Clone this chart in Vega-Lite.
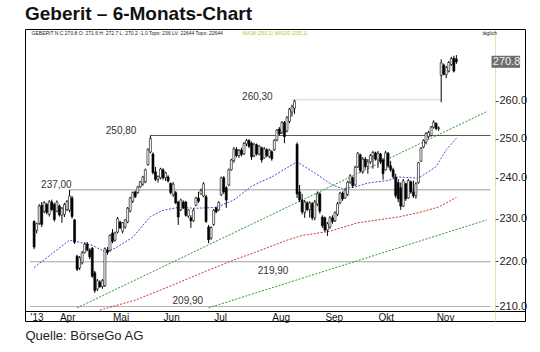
{
  "$schema": "https://vega.github.io/schema/vega-lite/v6.json",
  "width": 500,
  "height": 292,
  "autosize": "none",
  "padding": {"left": 25, "top": 29, "right": 15, "bottom": 31},
  "background": "white",
  "title": {"text": "Geberit – 6-Monats-Chart", "anchor": "start", "frame": "group", "fontSize": 19, "fontWeight": "bold", "font": "Liberation Sans", "color": "#111", "offset": 5},
  "config": {"view": {"stroke": "#000", "strokeWidth": 1}, "font": "Liberation Sans"},
  "datasets": {
    "candles": [
      {"t":-10,"o":229.3,"h":229.6,"l":222.8,"c":223.3},{"t":-9,"o":227.2,"h":229.0,"l":226.5,"c":228.8},{"t":-8,"o":228.9,"h":233.5,"l":228.5,"c":233.0},{"t":-7,"o":233.2,"h":234.0,"l":228.0,"c":228.6},{"t":-6,"o":231.8,"h":234.2,"l":231.3,"c":233.9},{"t":-5,"o":233.4,"h":233.8,"l":231.0,"c":231.5},{"t":-4,"o":231.0,"h":234.5,"l":230.5,"c":234.1},{"t":-3,"o":234.0,"h":234.6,"l":231.8,"c":232.2},{"t":-2,"o":233.4,"h":233.8,"l":229.3,"c":229.8},{"t":-1,"o":231.8,"h":234.4,"l":231.5,"c":234.0},
      {"t":0,"o":233.0,"h":233.4,"l":230.5,"c":230.9},{"t":1,"o":230.8,"h":232.8,"l":229.0,"c":232.5},{"t":2,"o":231.0,"h":233.8,"l":230.4,"c":233.4},{"t":3,"o":232.2,"h":234.5,"l":231.8,"c":234.1},{"t":4,"o":232.0,"h":237.0,"l":231.5,"c":235.5},{"t":5,"o":235.0,"h":235.5,"l":230.0,"c":230.5},{"t":6,"o":229.7,"h":229.9,"l":224.0,"c":224.4},{"t":7,"o":221.2,"h":221.5,"l":217.8,"c":218.2},{"t":8,"o":218.5,"h":221.2,"l":218.0,"c":220.8},{"t":9,"o":219.7,"h":222.4,"l":219.3,"c":222.0},
      {"t":10,"o":222.0,"h":224.4,"l":221.8,"c":224.0},{"t":11,"o":224.0,"h":224.5,"l":222.3,"c":222.6},{"t":12,"o":222.6,"h":223.0,"l":220.5,"c":221.0},{"t":13,"o":223.0,"h":223.3,"l":216.3,"c":216.6},{"t":14,"o":217.4,"h":217.8,"l":212.9,"c":213.4},{"t":15,"o":213.8,"h":216.0,"l":213.3,"c":215.6},{"t":16,"o":215.3,"h":215.7,"l":214.0,"c":214.3},{"t":17,"o":214.3,"h":216.0,"l":213.8,"c":215.6},{"t":18,"o":214.5,"h":223.2,"l":214.2,"c":222.9},{"t":19,"o":222.6,"h":223.3,"l":221.5,"c":222.0},
      {"t":20,"o":222.5,"h":226.3,"l":222.2,"c":226.0},{"t":21,"o":226.6,"h":227.5,"l":224.2,"c":224.6},{"t":22,"o":224.9,"h":226.9,"l":224.6,"c":226.6},{"t":23,"o":226.8,"h":230.4,"l":226.5,"c":230.0},{"t":24,"o":229.2,"h":229.5,"l":227.5,"c":227.8},{"t":25,"o":227.0,"h":229.2,"l":226.5,"c":229.0},{"t":26,"o":228.0,"h":229.9,"l":227.6,"c":229.7},{"t":27,"o":229.2,"h":232.8,"l":228.9,"c":232.5},{"t":28,"o":231.8,"h":235.3,"l":231.5,"c":235.0},{"t":29,"o":234.2,"h":236.6,"l":233.8,"c":236.3},
      {"t":30,"o":236.5,"h":236.8,"l":235.0,"c":235.3},{"t":31,"o":236.3,"h":238.0,"l":236.0,"c":237.7},{"t":32,"o":237.8,"h":239.2,"l":237.5,"c":239.0},{"t":33,"o":238.4,"h":240.5,"l":238.0,"c":240.2},{"t":34,"o":239.0,"h":242.3,"l":238.7,"c":242.0},{"t":35,"o":243.3,"h":247.5,"l":243.0,"c":247.1},{"t":36,"o":246.5,"h":250.8,"l":246.2,"c":250.0},{"t":37,"o":246.0,"h":246.4,"l":240.8,"c":241.3},{"t":38,"o":241.5,"h":242.7,"l":239.2,"c":239.6},{"t":39,"o":239.6,"h":240.6,"l":238.8,"c":240.3},
      {"t":40,"o":240.0,"h":242.5,"l":239.6,"c":242.2},{"t":41,"o":242.0,"h":242.4,"l":239.5,"c":240.0},{"t":42,"o":240.0,"h":241.5,"l":239.2,"c":241.2},{"t":43,"o":240.2,"h":240.6,"l":238.8,"c":239.2},{"t":44,"o":238.6,"h":238.8,"l":235.9,"c":236.3},{"t":45,"o":235.8,"h":238.9,"l":235.3,"c":238.4},{"t":46,"o":236.3,"h":236.7,"l":233.5,"c":233.8},{"t":47,"o":234.0,"h":234.3,"l":228.5,"c":230.4},{"t":48,"o":232.1,"h":234.8,"l":231.8,"c":234.5},{"t":49,"o":234.0,"h":234.4,"l":232.3,"c":232.6},
      {"t":50,"o":234.0,"h":234.3,"l":230.5,"c":230.8},{"t":51,"o":230.6,"h":232.3,"l":230.2,"c":232.1},{"t":52,"o":230.2,"h":230.8,"l":227.8,"c":229.5},{"t":53,"o":229.5,"h":232.5,"l":229.2,"c":232.0},{"t":54,"o":233.2,"h":235.3,"l":233.0,"c":235.0},{"t":55,"o":235.0,"h":236.5,"l":233.8,"c":234.2},{"t":56,"o":236.0,"h":237.3,"l":235.8,"c":236.8},{"t":57,"o":235.5,"h":238.9,"l":235.2,"c":238.5},{"t":58,"o":235.3,"h":235.8,"l":229.0,"c":229.3},{"t":59,"o":228.0,"h":228.5,"l":224.2,"c":225.0},
      {"t":60,"o":225.4,"h":228.2,"l":225.0,"c":227.9},{"t":61,"o":228.6,"h":232.3,"l":228.3,"c":232.0},{"t":62,"o":232.5,"h":232.9,"l":231.3,"c":231.6},{"t":63,"o":232.1,"h":234.2,"l":231.8,"c":233.9},{"t":64,"o":235.8,"h":240.3,"l":235.5,"c":240.0},{"t":65,"o":240.0,"h":240.4,"l":236.0,"c":236.5},{"t":66,"o":237.5,"h":237.9,"l":232.6,"c":234.5},{"t":67,"o":238.2,"h":242.3,"l":237.9,"c":242.0},{"t":68,"o":242.0,"h":244.8,"l":241.8,"c":244.5},{"t":69,"o":244.3,"h":247.8,"l":243.8,"c":247.3},
      {"t":70,"o":247.2,"h":247.8,"l":245.2,"c":245.6},{"t":71,"o":245.6,"h":247.3,"l":245.0,"c":246.9},{"t":72,"o":247.0,"h":247.6,"l":245.4,"c":245.9},{"t":73,"o":246.0,"h":249.1,"l":245.8,"c":248.7},{"t":74,"o":248.6,"h":249.9,"l":248.0,"c":249.5},{"t":75,"o":249.5,"h":249.8,"l":247.5,"c":248.0},{"t":76,"o":248.8,"h":249.2,"l":244.5,"c":245.3},{"t":77,"o":245.5,"h":248.9,"l":245.2,"c":248.5},{"t":78,"o":248.4,"h":248.7,"l":245.6,"c":246.0},{"t":79,"o":246.0,"h":248.3,"l":245.7,"c":248.0},
      {"t":80,"o":247.6,"h":247.9,"l":243.8,"c":244.5},{"t":81,"o":245.0,"h":247.8,"l":244.8,"c":247.3},{"t":82,"o":247.1,"h":247.5,"l":245.2,"c":245.6},{"t":83,"o":245.4,"h":247.4,"l":245.0,"c":247.0},{"t":84,"o":246.6,"h":247.0,"l":244.3,"c":244.8},{"t":85,"o":247.1,"h":249.8,"l":246.8,"c":249.5},{"t":86,"o":249.6,"h":252.5,"l":249.3,"c":252.2},{"t":87,"o":252.5,"h":253.0,"l":250.8,"c":251.2},{"t":88,"o":251.5,"h":254.6,"l":251.2,"c":254.2},{"t":89,"o":254.2,"h":254.6,"l":248.8,"c":250.5},
      {"t":90,"o":252.0,"h":255.9,"l":251.6,"c":255.5},{"t":91,"o":254.5,"h":258.1,"l":254.0,"c":257.8},{"t":92,"o":257.0,"h":259.0,"l":255.8,"c":258.4},{"t":93,"o":258.0,"h":260.3,"l":256.5,"c":259.9},{"t":94,"o":248.5,"h":249.0,"l":235.0,"c":236.0},{"t":95,"o":236.5,"h":238.2,"l":234.0,"c":234.5},{"t":96,"o":234.5,"h":236.0,"l":231.0,"c":231.6},{"t":97,"o":231.5,"h":234.5,"l":230.2,"c":234.0},{"t":98,"o":233.8,"h":234.2,"l":231.8,"c":232.2},{"t":99,"o":232.2,"h":234.2,"l":230.3,"c":233.8},
      {"t":100,"o":233.6,"h":234.0,"l":229.6,"c":230.2},{"t":101,"o":230.2,"h":234.5,"l":229.6,"c":234.0},{"t":102,"o":233.5,"h":236.6,"l":233.0,"c":236.0},{"t":103,"o":236.0,"h":236.4,"l":231.2,"c":231.8},{"t":104,"o":230.4,"h":230.8,"l":227.8,"c":228.3},{"t":105,"o":230.2,"h":230.5,"l":226.9,"c":227.3},{"t":106,"o":227.3,"h":229.2,"l":225.9,"c":228.8},{"t":107,"o":228.0,"h":230.6,"l":227.6,"c":230.2},{"t":108,"o":230.2,"h":230.8,"l":228.8,"c":229.3},{"t":109,"o":229.5,"h":231.8,"l":229.2,"c":231.4},
      {"t":110,"o":231.0,"h":234.0,"l":230.6,"c":233.6},{"t":111,"o":233.8,"h":236.5,"l":233.5,"c":236.2},{"t":112,"o":236.2,"h":236.6,"l":234.3,"c":234.8},{"t":113,"o":235.0,"h":237.3,"l":234.8,"c":237.0},{"t":114,"o":235.8,"h":239.2,"l":235.5,"c":238.9},{"t":115,"o":238.9,"h":240.9,"l":238.5,"c":240.5},{"t":116,"o":240.0,"h":240.3,"l":237.5,"c":238.0},{"t":117,"o":238.2,"h":243.0,"l":238.0,"c":242.6},{"t":118,"o":242.7,"h":246.5,"l":242.5,"c":246.2},{"t":119,"o":245.8,"h":246.1,"l":241.3,"c":241.8},
      {"t":120,"o":241.5,"h":245.2,"l":241.0,"c":244.7},{"t":121,"o":244.7,"h":245.2,"l":242.3,"c":242.8},{"t":122,"o":242.8,"h":244.7,"l":241.0,"c":244.0},{"t":123,"o":244.0,"h":246.0,"l":243.5,"c":245.6},{"t":124,"o":245.5,"h":246.8,"l":242.3,"c":246.4},{"t":125,"o":246.3,"h":246.6,"l":244.3,"c":244.7},{"t":126,"o":244.5,"h":246.8,"l":242.5,"c":246.2},{"t":127,"o":246.0,"h":246.3,"l":243.5,"c":244.0},{"t":128,"o":244.5,"h":245.0,"l":239.5,"c":241.0},{"t":129,"o":242.0,"h":246.8,"l":241.8,"c":246.3},
      {"t":130,"o":246.2,"h":246.5,"l":242.5,"c":243.0},{"t":131,"o":243.0,"h":244.2,"l":241.5,"c":242.0},{"t":132,"o":242.0,"h":242.5,"l":239.8,"c":240.3},{"t":133,"o":240.2,"h":241.0,"l":235.0,"c":235.6},{"t":134,"o":238.8,"h":239.7,"l":234.0,"c":234.8},{"t":135,"o":237.5,"h":238.8,"l":232.1,"c":233.0},{"t":136,"o":233.0,"h":239.7,"l":232.8,"c":239.2},{"t":137,"o":238.5,"h":238.8,"l":234.3,"c":234.8},{"t":138,"o":235.0,"h":239.7,"l":234.8,"c":239.3},{"t":139,"o":239.0,"h":239.3,"l":236.0,"c":236.5},
      {"t":140,"o":236.5,"h":239.3,"l":235.0,"c":235.5},{"t":141,"o":235.5,"h":238.9,"l":234.8,"c":238.5},{"t":142,"o":238.8,"h":244.0,"l":238.5,"c":243.8},{"t":143,"o":244.2,"h":247.8,"l":244.0,"c":247.5},{"t":144,"o":247.8,"h":249.8,"l":247.5,"c":249.5},{"t":145,"o":249.0,"h":251.7,"l":248.5,"c":251.3},{"t":146,"o":250.5,"h":252.0,"l":250.0,"c":251.6},{"t":147,"o":250.8,"h":253.3,"l":250.5,"c":253.0},{"t":148,"o":253.0,"h":254.8,"l":252.6,"c":254.3},{"t":149,"o":254.0,"h":254.2,"l":252.2,"c":252.6},
      {"t":150,"o":252.6,"h":253.2,"l":252.0,"c":252.8},{"t":151,"o":267.0,"h":271.5,"l":259.6,"c":270.5},{"t":152,"o":269.9,"h":270.3,"l":267.0,"c":267.3},{"t":153,"o":267.2,"h":269.6,"l":266.2,"c":269.2},{"t":154,"o":268.2,"h":271.0,"l":267.8,"c":270.6},{"t":155,"o":270.0,"h":272.2,"l":269.6,"c":271.7},{"t":156,"o":271.8,"h":272.5,"l":267.8,"c":268.2},{"t":157,"o":271.6,"h":272.7,"l":270.2,"c":270.8}
    ],
    "lines": [
      {"s":"MA38","t":-10,"v":218.6},{"s":"MA38","t":4,"v":224.9},{"s":"MA38","t":8,"v":224.4},{"s":"MA38","t":13,"v":223.7},{"s":"MA38","t":18,"v":222.2},{"s":"MA38","t":22,"v":223.0},{"s":"MA38","t":29,"v":225.6},{"s":"MA38","t":36,"v":230.5},{"s":"MA38","t":41,"v":232.0},{"s":"MA38","t":47,"v":232.7},{"s":"MA38","t":54,"v":232.5},{"s":"MA38","t":62,"v":232.7},{"s":"MA38","t":69,"v":234.5},{"s":"MA38","t":76,"v":237.9},{"s":"MA38","t":80,"v":239.1},{"s":"MA38","t":84,"v":240.2},{"s":"MA38","t":90,"v":242.5},{"s":"MA38","t":94,"v":244.0},{"s":"MA38","t":100,"v":241.6},{"s":"MA38","t":108,"v":238.2},{"s":"MA38","t":112,"v":237.3},{"s":"MA38","t":117,"v":237.7},{"s":"MA38","t":122,"v":238.7},{"s":"MA38","t":130,"v":239.3},{"s":"MA38","t":134,"v":240.2},{"s":"MA38","t":142,"v":239.9},{"s":"MA38","t":149,"v":242.8},{"s":"MA38","t":153,"v":247.1},{"s":"MA38","t":157,"v":250.1},
      {"s":"MA200","t":16,"v":209.1},{"s":"MA200","t":30,"v":211.3},{"s":"MA200","t":43,"v":214.2},{"s":"MA200","t":56,"v":217.3},{"s":"MA200","t":69,"v":220.3},{"s":"MA200","t":83,"v":223.3},{"s":"MA200","t":90,"v":224.9},{"s":"MA200","t":96,"v":226.0},{"s":"MA200","t":107,"v":227.0},{"s":"MA200","t":118,"v":229.0},{"s":"MA200","t":126,"v":229.7},{"s":"MA200","t":134,"v":230.4},{"s":"MA200","t":142,"v":231.4},{"s":"MA200","t":150,"v":232.8},{"s":"MA200","t":157,"v":235.1},
      {"s":"Trend1","t":7,"v":209.6},{"s":"Trend1","t":169,"v":257.1},
      {"s":"Trend2","t":59,"v":209.6},{"s":"Trend2","t":169,"v":229.7}
    ],
    "levels": [
      {"name":"260,30","t0":92,"t1":151,"p":260.3},
      {"name":"250,80","t0":36,"t1":170.5,"p":250.8},
      {"name":"237,00","t0":4,"t1":170.5,"p":237.0},
      {"name":"219,90","t0":-11.63,"t1":170.5,"p":219.9},
      {"name":"209,90","t0":-11.63,"t1":170.5,"p":209.9}
    ],
    "notes": [
      {"t":78.3,"p":261.1,"text":"260,30"},
      {"t":24.4,"p":251.9,"text":"250,80"},
      {"t":-1.2,"p":238.1,"text":"237,00"},
      {"t":84.5,"p":217.8,"text":"219,90"},
      {"t":50.8,"p":211.2,"text":"209,90"}
    ],
    "head": [
      {"t":-11.0,"p":278.9,"kind":"info","text":"GEBERIT N  C 270.8  O: 271.6  H: 272.7  L: 270.2  -1.0  Tops: 236  LV: 22644  Tops: 22644"},
      {"t":72.5,"p":278.9,"kind":"ma","text":"MA38 (250.1)   MA200 (235.1)"},
      {"t":167.3,"p":278.9,"kind":"info","text":"täglich"}
    ],
    "last": [
      {"t0":170.9,"t1":182.2,"p0":269.1,"p1":272.5,"t":171.4,"p":270.8,"text":"270.8"}
    ]
  },
  "encoding": {
    "x": {"field": "t", "type": "quantitative", "scale": {"domain": [-11.63, 182.17], "nice": false, "zero": false},
      "axis": {"orient": "bottom", "offset": -10, "values": [-11.6, 0, 21, 41, 61, 84, 105, 126, 149],
        "labelExpr": "datum.value < -5 ? \"'13\" : datum.value < 10 ? 'Apr' : datum.value < 30 ? 'Mai' : datum.value < 50 ? 'Jun' : datum.value < 70 ? 'Jul' : datum.value < 95 ? 'Aug' : datum.value < 115 ? 'Sep' : datum.value < 140 ? 'Okt' : 'Nov'",
        "labelAlign": "left", "labelBaseline": "top", "labelPadding": 1, "labelFontSize": 10, "labelColor": "#111", "labelFlush": false, "labelOverlap": false, "labelSeparation": 0,
        "ticks": false, "grid": false, "domainColor": "#000", "domainWidth": 1,
        "title": "Quelle: BörseGo AG", "titleAnchor": "start", "titleAlign": "left", "titleBaseline": "top", "titleFontSize": 13, "titleFontWeight": "normal", "titleColor": "#222", "titlePadding": 7}},
    "y": {"field": "p", "type": "quantitative", "scale": {"type": "log", "domain": [206.75, 280.2], "nice": false},
      "axis": {"orient": "right", "offset": -30, "values": [210, 220, 230, 240, 250, 260], "format": ".1f", "labelFontSize": 11, "labelPadding": 1, "labelColor": "#222", "labelFlush": false,
        "tickSize": 3, "tickColor": "#444", "domainColor": "#d8b860", "domainDash": [1, 1], "grid": false, "title": null}}
  },
  "resolve": {"scale": {"color": "independent", "stroke": "independent", "strokeWidth": "independent"}},
  "layer": [
    {
      "data": {"name": "levels"},
      "mark": {"type": "rule"},
      "encoding": {
        "x": {"field": "t0", "type": "quantitative"},
        "x2": {"field": "t1"},
        "stroke": {"field": "name", "type": "nominal", "scale": {"domain": ["260,30","250,80","237,00","219,90","209,90"], "range": ["#d0d0d0","#555555","#9a9a9a","#a0a0a0","#b0b0b0"]}, "legend": null},
        "strokeWidth": {"field": "name", "type": "nominal", "scale": {"domain": ["260,30","250,80","237,00","219,90","209,90"], "range": [1,1,1,2.5,1]}, "legend": null}
      }
    },
    {
      "data": {"name": "lines"},
      "mark": {"type": "line", "strokeWidth": 1, "strokeDash": [2, 1.5]},
      "encoding": {
        "y": {"field": "v", "type": "quantitative"},
        "color": {"field": "s", "type": "nominal", "scale": {"domain": ["MA38","MA200","Trend1","Trend2"], "range": ["#4a4ad8","#e03030","#2a9a2a","#2a9a2a"]}, "legend": null},
        "detail": {"field": "s"}
      }
    },
    {
      "data": {"name": "candles"},
      "mark": {"type": "rule", "color": "#000", "strokeWidth": 1},
      "encoding": {
        "y": {"field": "l", "type": "quantitative"},
        "y2": {"field": "h"}
      }
    },
    {
      "data": {"name": "candles"},
      "mark": {"type": "bar", "size": 2, "stroke": "#000", "strokeWidth": 0.6},
      "encoding": {
        "y": {"field": "o", "type": "quantitative"},
        "y2": {"field": "c"},
        "fill": {"condition": {"test": "datum.c >= datum.o", "value": "#ffffff"}, "value": "#000000"}
      }
    },
    {
      "data": {"name": "notes"},
      "mark": {"type": "text", "fontSize": 10, "color": "#333", "align": "center", "baseline": "middle"},
      "encoding": {"text": {"field": "text"}}
    },
    {
      "data": {"name": "head"},
      "mark": {"type": "text", "fontSize": 5, "align": "left", "baseline": "middle"},
      "encoding": {
        "text": {"field": "text"},
        "fill": {"condition": {"test": "datum.kind == 'ma'", "value": "#c2c22a"}, "value": "#222"}
      }
    },
    {
      "data": {"name": "last"},
      "mark": {"type": "rect", "fill": "#6e6e6e"},
      "encoding": {
        "x": {"field": "t0", "type": "quantitative"},
        "x2": {"field": "t1"},
        "y": {"field": "p0", "type": "quantitative"},
        "y2": {"field": "p1"}
      }
    },
    {
      "data": {"name": "last"},
      "mark": {"type": "text", "fontSize": 11, "color": "#f2f2f2", "align": "left", "baseline": "middle"},
      "encoding": {"text": {"field": "text"}}
    }
  ]
}
